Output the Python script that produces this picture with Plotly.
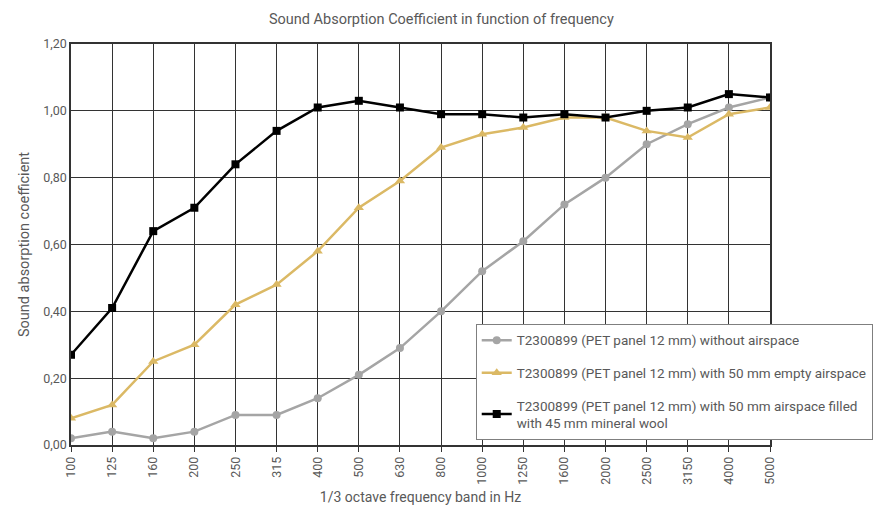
import plotly.graph_objects as go

freqs = ["100", "125", "160", "200", "250", "315", "400", "500", "630", "800",
         "1000", "1250", "1600", "2000", "2500", "3150", "4000", "5000"]
no_air = [0.02, 0.04, 0.02, 0.04, 0.09, 0.09, 0.14, 0.21, 0.29, 0.40,
          0.52, 0.61, 0.72, 0.80, 0.90, 0.96, 1.01, 1.04]
empty_air = [0.08, 0.12, 0.25, 0.30, 0.42, 0.48, 0.58, 0.71, 0.79, 0.89,
             0.93, 0.95, 0.98, 0.98, 0.94, 0.92, 0.99, 1.01]
wool_air = [0.27, 0.41, 0.64, 0.71, 0.84, 0.94, 1.01, 1.03, 1.01, 0.99,
            0.99, 0.98, 0.99, 0.98, 1.00, 1.01, 1.05, 1.04]
names = ["T2300899 (PET panel 12 mm) without airspace",
         "T2300899 (PET panel 12 mm) with 50 mm empty airspace",
         "T2300899 (PET panel 12 mm) with 50 mm airspace filled<br>with 45 mm mineral wool"]

FONT = "Roboto, sans-serif"
TXT = "#595959"
GRID = "#333333"

fig = go.Figure()
fig.add_trace(go.Scatter(x=freqs, y=no_air, name=names[0], mode="lines+markers",
                         line=dict(color="#a5a5a5", width=2.5),
                         marker=dict(symbol="circle", size=8, color="#a5a5a5"),
                         legendgroup="a"))
fig.add_trace(go.Scatter(x=freqs, y=empty_air, name=names[1], mode="lines+markers",
                         line=dict(color="#dbb965", width=2.5),
                         marker=dict(symbol="triangle-up", size=9, color="#dbb965"),
                         legendgroup="b"))
fig.add_trace(go.Scatter(x=freqs, y=wool_air, name=names[2], mode="lines+markers",
                         line=dict(color="#000000", width=2.5),
                         marker=dict(symbol="square", size=8, color="#000000"),
                         legendgroup="c"))

fig.update_layout(
    width=874, height=505,
    margin=dict(l=71, r=104, t=44, b=60, autoexpand=False),
    paper_bgcolor="white", plot_bgcolor="white",
    separators=",.",
    font=dict(family=FONT, size=12, color=TXT),
    title=dict(text="Sound Absorption Coefficient in function of frequency",
               x=0.505, xanchor="center", y=0.962, yanchor="middle",
               font=dict(family=FONT, size=14.5, color=TXT)),
    xaxis=dict(type="category", range=[0, 17], showgrid=True, automargin=False,
               gridcolor=GRID, gridwidth=1, showline=True, linecolor=GRID,
               linewidth=1.5, mirror=True, tickangle=-90, ticks="outside",
               ticklen=5, tickcolor=GRID,
               tickfont=dict(family=FONT, size=12.5, color=TXT),
               title=dict(text="1/3 octave frequency band in Hz", standoff=8,
                          font=dict(family=FONT, size=14, color=TXT))),
    yaxis=dict(range=[0, 1.2], dtick=0.2, tickformat=".2f", showgrid=True,
               automargin=False,
               gridcolor=GRID, gridwidth=1, showline=True, linecolor=GRID,
               linewidth=1.5, mirror=True, zeroline=False,
               tickfont=dict(family=FONT, size=12.5, color=TXT),
               title=dict(text="Sound absorption coefficient", standoff=10,
                          font=dict(family=FONT, size=14.5, color=TXT))),
    legend=dict(x=0.579, y=0.302, xanchor="left", yanchor="top",
                bgcolor="white", bordercolor="#7f7f7f", borderwidth=1,
                traceorder="grouped", tracegroupgap=12,
                font=dict(family=FONT, size=13.5, color=TXT),
                itemwidth=30),
)

fig.write_html("out.html", config={"displayModeBar": False},
               post_script="document.body.style.margin='0';document.body.style.padding='0';")
